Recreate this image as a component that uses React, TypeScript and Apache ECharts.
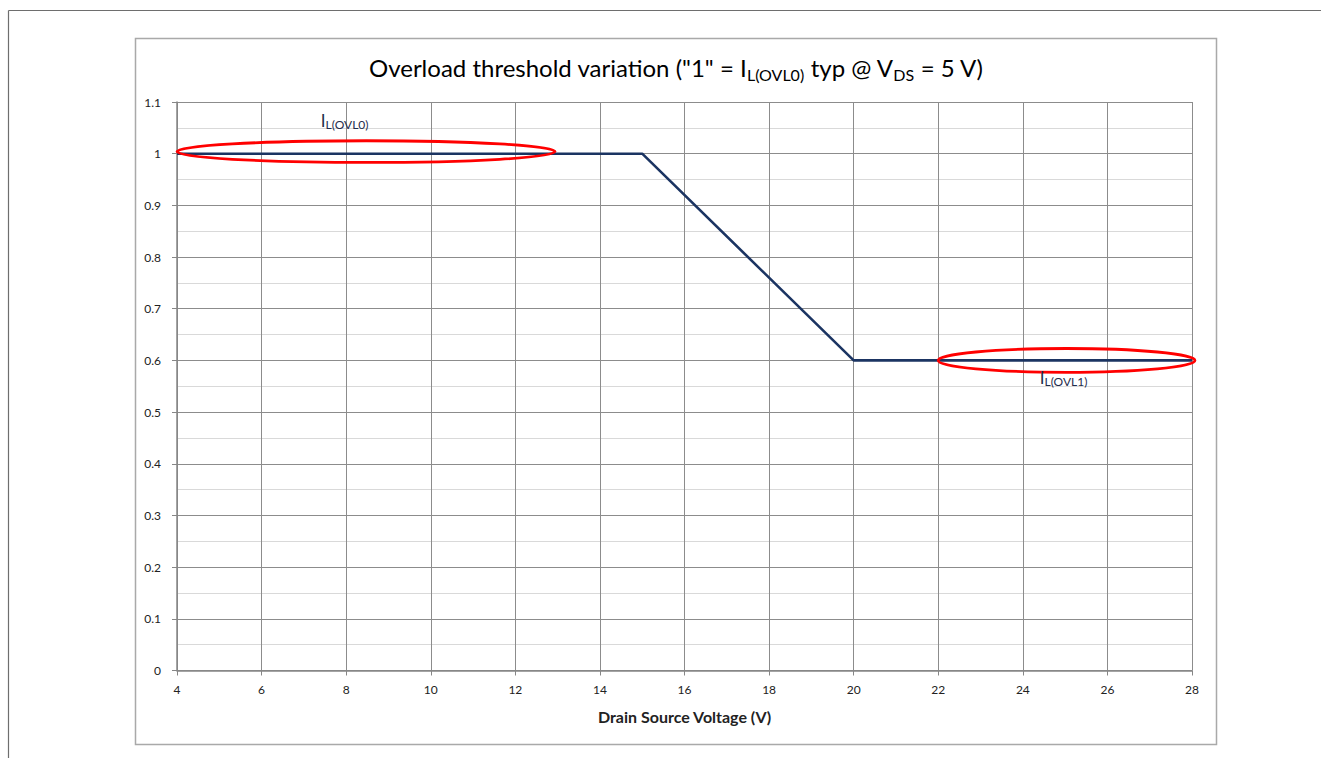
import React, { useEffect, useRef } from "react";
import * as echarts from "echarts";

const voltage = [4, 15, 20, 28];
const ratio = [1, 1, 0.6, 0.6];
const xTicks = { min: 4, max: 28, step: 2 };
const yTicks = { min: 0, max: 1.1, step: 0.1 };
// ellipse highlights: [xStart, xEnd, yCenter, halfHeight]
const highlights = [
  [4.0, 12.94, 1.004, 0.021],
  [22.0, 28.07, 0.6, 0.023],
];
// labels: [x, y(bottom of text), sub]
const labelPos = [
  [7.4, 1.044, "L(OVL0)"],
  [24.4, 0.548, "L(OVL1)"],
];

const FONT = "Lato, 'Open Sans', sans-serif";

export default function App() {
  const ref = useRef<HTMLDivElement>(null);
  useEffect(() => {
    if (!ref.current) return;
    const chart = echarts.init(ref.current, undefined, { renderer: "svg" });
    const data = voltage.map((v, i) => [v, ratio[i]]);
    chart.setOption({
      animation: false,
      backgroundColor: "#fff",
      textStyle: { fontFamily: FONT },
      grid: { left: 177, right: 129, top: 102, bottom: 87.5, containLabel: false },
      graphic: [
        {
          type: "line",
          shape: { x1: 8.5, y1: 10.5, x2: 1321, y2: 10.5 },
          style: { stroke: "#6e6e6e", lineWidth: 1.2 },
        },
        {
          type: "line",
          shape: { x1: 8.5, y1: 10.5, x2: 8.5, y2: 758 },
          style: { stroke: "#6e6e6e", lineWidth: 1.2 },
        },
        {
          type: "rect",
          shape: { x: 135.5, y: 38.5, width: 1081, height: 706 },
          style: { fill: "none", stroke: "#a9a9a9", lineWidth: 1.5 },
          z: -1,
        },
        {
          type: "text",
          x: 676,
          y: 67,
          style: {
            text: '{m|Overload threshold variation ("1" = I}{s|L(OVL0)}{m| typ @ V}{s|DS}{m| = 5 V)}',
            align: "center",
            verticalAlign: "middle",
            rich: {
              m: { fontSize: 24, fontFamily: FONT, fill: "#000", lineHeight: 30 },
              s: { fontSize: 16, fontFamily: FONT, fill: "#000", lineHeight: 20, verticalAlign: "bottom" },
            },
          },
        },
      ],
      xAxis: {
        type: "value",
        min: xTicks.min,
        max: xTicks.max,
        interval: xTicks.step,
        name: "Drain Source Voltage (V)",
        nameLocation: "middle",
        nameGap: 38,
        nameTextStyle: { fontSize: 16, fontWeight: "bold", color: "#222", fontFamily: FONT },
        axisLine: { show: true, lineStyle: { color: "#868686", width: 1.5 } },
        axisTick: { show: true, length: 5, lineStyle: { color: "#868686" } },
        axisLabel: { fontSize: 12, color: "#222", margin: 13, fontFamily: FONT },
        splitLine: { show: true, lineStyle: { color: "#8c8c8c", width: 1 } },
      },
      yAxis: {
        type: "value",
        min: yTicks.min,
        max: yTicks.max,
        interval: yTicks.step,
        axisLine: { show: true, lineStyle: { color: "#868686", width: 1.5 } },
        axisTick: { show: true, length: 5, lineStyle: { color: "#868686" } },
        axisLabel: { fontSize: 12, color: "#222", margin: 16, fontFamily: FONT },
        splitLine: { show: true, lineStyle: { color: "#8c8c8c", width: 1 } },
        minorTick: { show: false, splitNumber: 2 },
        minorSplitLine: { show: true, lineStyle: { color: "#d9d9d9", width: 1.2 } },
      },
      series: [
        {
          type: "line",
          data,
          symbol: "none",
          lineStyle: { color: "#1b3462", width: 2.6 },
          z: 3,
        },
        {
          type: "custom",
          clip: false,
          z: 4,
          data: highlights,
          renderItem: (params: any, api: any) => {
            const p0 = api.coord([api.value(0), api.value(2)]);
            const p1 = api.coord([api.value(1), api.value(2)]);
            const h = api.size([0, api.value(3)])[1];
            return {
              type: "ellipse",
              shape: { cx: (p0[0] + p1[0]) / 2, cy: p0[1], rx: (p1[0] - p0[0]) / 2, ry: h },
              style: { fill: "none", stroke: "#ff0000", lineWidth: 2.8 },
            };
          },
        },
        {
          type: "custom",
          clip: false,
          z: 5,
          data: labelPos,
          renderItem: (params: any, api: any) => {
            const p = api.coord([api.value(0), api.value(1)]);
            const sub = labelPos[params.dataIndex][2];
            return {
              type: "text",
              x: p[0],
              y: p[1],
              style: {
                text: "{i|I}{s|" + sub + "}",
                align: "left",
                verticalAlign: "bottom",
                rich: {
                  i: { fontSize: 17, fontFamily: FONT, fill: "#1f2d4d", lineHeight: 20 },
                  s: { fontSize: 12, fontFamily: FONT, fill: "#1f2d4d", lineHeight: 13, verticalAlign: "bottom" },
                },
              },
            };
          },
        },
      ],
    });
    return () => chart.dispose();
  }, []);
  return (
    <div
      ref={ref}
      style={{ position: "absolute", left: 0, top: 0, width: 1321, height: 758 }}
    />
  );
}
